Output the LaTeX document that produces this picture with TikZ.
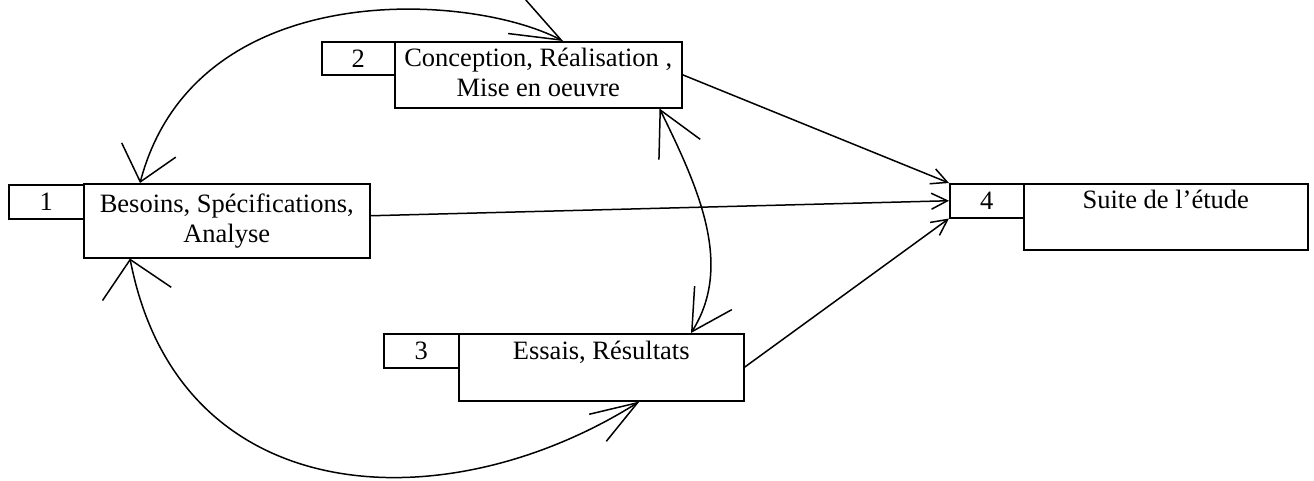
\documentclass[tikz,border=0pt]{standalone}
\usepackage{fontspec}
\setmainfont{Liberation Serif}
\usetikzlibrary{arrows.meta}
\begin{document}
\begin{tikzpicture}[x=1pt,y=-1pt,line width=1.5pt,
  txt/.style={font=\fontsize{26.5}{30}\selectfont},
  numbox/.style={draw,txt,minimum width=75pt,minimum height=34pt,inner sep=0pt,anchor=north west},
  mainbox/.style={draw,txt,inner sep=0pt,anchor=north west,align=center},
  barb/.style n args={2}{Straight Barb[length=#1,width=#2]},
  smalltip/.style={-{Straight Barb[length=16pt,width=16pt]}}]
\useasboundingbox (0,0) rectangle (1314,480);
% boxes
\node[numbox] (n1) at (8,184) {1};
\node[mainbox,minimum width=286pt,minimum height=74pt] (b1) at (83,183) {\rule{0pt}{23pt}Besoins, Spécifications,\\\strut Analyse};
\node[numbox,minimum width=73pt,minimum height=33pt] (n2) at (321,41) {2};
\node[mainbox,minimum width=287pt,minimum height=66pt] (b2) at (394,41) {\rule{0pt}{23pt}Conception, Réalisation ,\\\strut Mise en oeuvre};
\node[numbox] (n3) at (383,333) {3};
\node[mainbox,minimum width=285pt,minimum height=67pt] (b3) at (458,333) {\rule{0pt}{23pt}Essais, Résultats\\\strut};
\node[numbox,minimum width=74pt] (n4) at (949,183) {4};
\node[mainbox,minimum width=284pt,minimum height=66pt] (b4) at (1023,183) {\rule{0pt}{23pt}Suite de l’étude\\\strut};
% curved connectors
\draw[{Straight Barb[length=50pt,width=38pt]}-{Straight Barb[length=33pt,width=56pt]}]
  ([xshift=169pt]b2.north west) .. controls (470,-8) and (195,-25) .. ([xshift=57pt]b1.north west);
\draw[{Straight Barb[length=44pt,width=46pt]}-{Straight Barb[length=40pt,width=44pt]}]
  ([xshift=-23pt]b2.south east) .. controls (698,187) and (734,265) .. ([xshift=233pt]b3.north west);
\draw[{Straight Barb[length=35pt,width=70pt]}-{Straight Barb[length=47pt,width=32pt]}]
  ([xshift=47pt]b1.south west) .. controls (179,512) and (445,524) .. ([xshift=-105pt]b3.south east);
% straight connectors
\draw[smalltip] (b2.east) -- (n4.north west);
\draw[smalltip] ([yshift=5pt]b1.east) -- (n4.west);
\draw[smalltip] (b3.east) -- (n4.south west);
\end{tikzpicture}
\end{document}
